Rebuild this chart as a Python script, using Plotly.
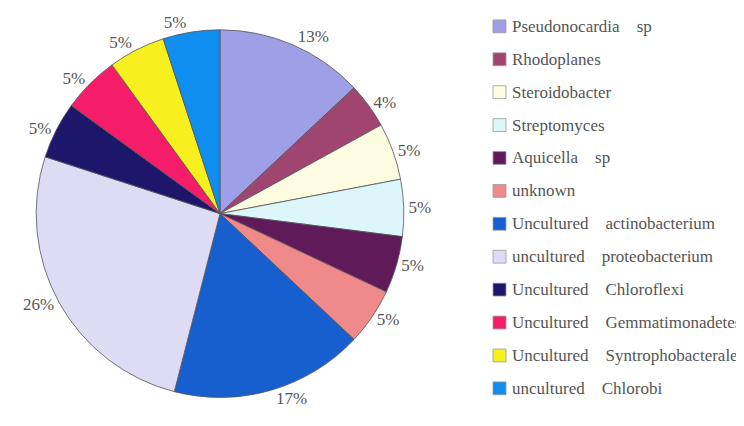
import plotly.graph_objects as go

W, H = 744, 426

labels = [
    "Pseudonocardia    sp", "Rhodoplanes", "Steroidobacter", "Streptomyces",
    "Aquicella    sp", "unknown", "Uncultured    actinobacterium",
    "uncultured    proteobacterium", "Uncultured    Chloroflexi",
    "Uncultured    Gemmatimonadetes", "Uncultured    Syntrophobacterales",
    "uncultured    Chlorobi",
]
values = [13, 4, 5, 5, 5, 5, 17, 26, 5, 5, 5, 5]
colors = [
    "#9f9fe8", "#a04470", "#fdfbe0", "#ddf6f9", "#601a5a", "#f0898a",
    "#175fcf", "#dedcf5", "#1c176b", "#f51d6a", "#f8f01e", "#0f8ef0",
]

FONT = "Liberation Serif"
OFF = 8  # page body margin offset

cx, cy, r = 220 - OFF, 211 - OFF, 186

fig = go.Figure(go.Pie(
    labels=labels,
    values=values,
    sort=False,
    direction="clockwise",
    rotation=0,
    marker=dict(colors=colors, line=dict(color="#555555", width=0.8)),
    texttemplate="%{value}%",
    textposition="outside",
    textfont=dict(family=FONT, size=17, color="#555555"),
    showlegend=False,
    domain=dict(x=[(cx - r) / W, (cx + r) / W],
                y=[1 - (cy + r) / H, 1 - (cy - r) / H]),
    hoverinfo="label+percent",
))

# manual legend (layout only)
shapes, annots = [], []
y0, step, box = 21.5 - OFF, 33.3, 13
mx, tx = 493 - OFF, 510 - OFF
for i, (lab, col) in enumerate(zip(labels, colors)):
    yc = y0 + i * step
    shapes.append(dict(
        type="rect", xref="paper", yref="paper",
        x0=mx / W, x1=(mx + box) / W,
        y0=1 - (yc + box / 2) / H, y1=1 - (yc - box / 2) / H,
        fillcolor=col, line=dict(color="#999999", width=0.8),
    ))
    annots.append(dict(
        xref="paper", yref="paper", x=tx / W, y=1 - yc / H,
        xanchor="left", yanchor="middle", showarrow=False,
        text=lab.replace(" ", "\u00a0"),
        font=dict(family=FONT, size=17, color="#555555"),
    ))

fig.update_layout(
    width=W, height=H,
    margin=dict(l=0, r=0, t=0, b=0),
    paper_bgcolor="white", plot_bgcolor="white",
    font=dict(family=FONT),
    shapes=shapes, annotations=annots,
)

fig.write_html("out.html")
